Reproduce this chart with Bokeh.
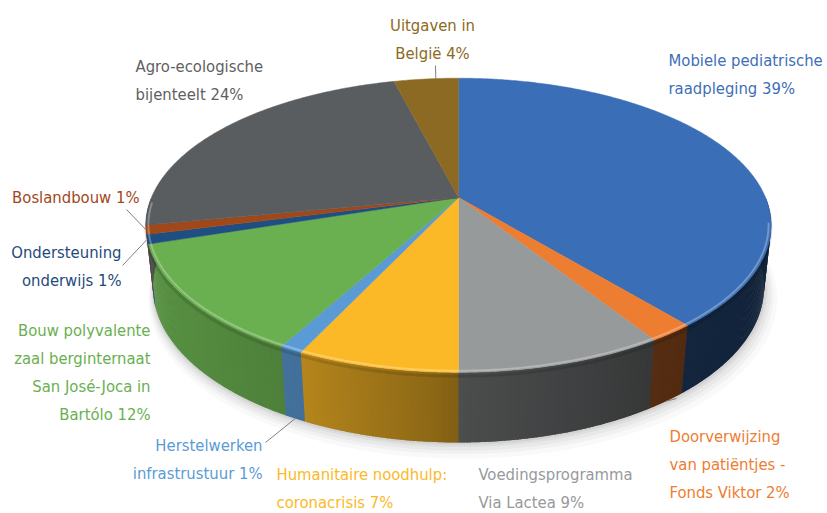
import numpy as np
from bokeh.plotting import figure
from bokeh.models import Range1d
from bokeh.core.properties import value
from bokeh.embed import file_html
from bokeh.resources import INLINE

# ---------------- data ----------------
categories = [
    "Mobiele pediatrische\nraadpleging",
    "Doorverwijzing\nvan patiëntjes -\nFonds Viktor",
    "Voedingsprogramma\nVia Lactea",
    "Humanitaire noodhulp:\ncoronacrisis",
    "Herstelwerken\ninfrastrustuur",
    "Bouw polyvalente\nzaal berginternaat\nSan José-Joca in\nBartólo",
    "Ondersteuning\nonderwijs",
    "Boslandbouw",
    "Agro-ecologische\nbijenteelt",
    "Uitgaven in\nBelgië",
]
shares = [39, 2, 9, 7, 1, 12, 1, 1, 24, 4]

# ---------------- styles ----------------
top_colors = ["#3A6FB7", "#ED7D31", "#979A9B", "#FBB927", "#5B9BD5",
              "#6AAF50", "#1F4E82", "#A0481A", "#5A5D5F", "#8C6A24"]
label_colors = ["#3D6FB6", "#ED7D31", "#97999B", "#FBB927", "#5B9BD5",
                "#6AAF50", "#1F4A7C", "#A0481A", "#5F6062", "#8B6A22"]
# side brightness (fraction of the top colour) as a function of angle
shade_ang = [90, 140, 150, 178, 185, 205, 230, 270]
shade_val = [0.30, 0.34, 0.37, 0.49, 0.57, 0.72, 0.80, 0.86]
# label anchor (x, y of first line centre), alignment
label_pos = [(668, 60, "left"), (669, 436, "left"), (478, 474, "left"),
             (276, 474, "left"), (262, 445, "right"), (150, 330, "right"),
             (121, 252, "right"), (139, 197, "right"), (135, 66, "left"),
             (432, 25, "center")]
line_gap = 28.0
# leader lines: (start x, start y, rim level, slice index, position in slice)
leaders = [(126, 209, "top", 7, 0.5), (122, 265, "top", 6, 0.5),
           (265, 442, "bottom", 4, 0.5), (676, 398, "bottom", 1, 0.5),
           (435, 65, "top", 9, 0.65)]

FONT = "DejaVu Sans Condensed"
FS = "16.5px"

# ---------------- perspective projection ----------------
cx, cy = 458.0, 197.0
s_phi = 0.462
c_phi = float(np.sqrt(1 - s_phi ** 2))
D = 4.69
f = 1440.0
h = 0.229


def proj(theta_deg, r, z):
    t = np.radians(theta_deg)
    X = r * np.sin(t)
    Y = r * np.cos(t)
    depth = Y * c_phi - z * s_phi + D
    xs = f * X / depth
    ys = f * (Y * s_phi + z * c_phi) / depth
    return cx + xs, cy - ys


def hex2rgb(hx):
    hx = hx.lstrip("#")
    return np.array([int(hx[i:i + 2], 16) for i in (0, 2, 4)], dtype=float)


def rgb2hex(c):
    c = np.clip(np.round(c), 0, 255).astype(int)
    return "#%02x%02x%02x" % tuple(c)


total = float(sum(shares))
bounds = np.concatenate([[0], np.cumsum(shares)]) / total * 360.0

W, H = 827, 513
p = figure(width=W, height=H, output_backend="svg", toolbar_location=None,
           x_range=Range1d(0, W), y_range=Range1d(H, 0),
           min_border=0)
p.axis.visible = False
p.grid.visible = False
p.outline_line_color = None
p.background_fill_color = "white"
p.border_fill_color = "white"

# ---------------- soft shadow ----------------
for grow, alpha in [(14, 0.025), (10, 0.03), (7, 0.035), (4, 0.045), (2, 0.05)]:
    angs = np.linspace(40, 272, 160)
    sx, sy = [], []
    for a in angs:
        x, y = proj(a, 1.0 + grow / 500.0, -h)
        sx.append(x + grow * 0.3)
        sy.append(y + grow * 0.7)
    for a in angs[::-1]:
        x, y = proj(a, 0.97, -h * 0.3)
        sx.append(x)
        sy.append(y)
    p.patch(sx, sy, fill_color="#000000", fill_alpha=alpha, line_color=None)

# ---------------- sides ----------------
step = 0.5
side_xs, side_ys, side_fill = [], [], []
for i in range(len(shares)):
    a0, a1 = max(bounds[i], 90.0), min(bounds[i + 1], 270.0)
    if a1 <= a0:
        continue
    n = max(1, int(np.ceil((a1 - a0) / step)))
    edges = np.linspace(a0, a1, n + 1)
    base = hex2rgb(top_colors[i])
    for j in range(n):
        a = edges[j]
        b = min(edges[j + 1] + 0.35, 270.0)
        m = 0.5 * (edges[j] + edges[j + 1])
        shade = np.interp(m, shade_ang, shade_val)
        pts_top = [proj(t, 1, 0) for t in np.linspace(a, b, 3)]
        pts_bot = [proj(t, 1, -h) for t in np.linspace(b, a, 3)]
        pts = pts_top + pts_bot
        side_xs.append([q[0] for q in pts])
        side_ys.append([q[1] for q in pts])
        side_fill.append(rgb2hex(base * shade))
p.patches(side_xs, side_ys, fill_color=side_fill, line_color=None)

# soft darkening just below the rim (rounded edge)
for i in range(len(shares)):
    a0, a1 = max(bounds[i], 92.0), min(bounds[i + 1], 268.0)
    if a1 <= a0:
        continue
    angs = np.linspace(a0, a1, max(3, int((a1 - a0) / 0.5)))
    pts = [proj(t, 1, -0.012) for t in angs]
    p.line([q[0] for q in pts], [q[1] for q in pts], line_color="#000000",
           line_alpha=0.12, line_width=3)

# ---------------- top faces ----------------
top_xs, top_ys = [], []
for i in range(len(shares)):
    a0, a1 = bounds[i], bounds[i + 1]
    n = max(2, int(np.ceil((a1 - a0) / 0.5)))
    angs = np.linspace(a0, a1, n + 1)
    xs = [cx]
    ys = [cy]
    for a in angs:
        x, y = proj(a, 1, 0)
        xs.append(x)
        ys.append(y)
    top_xs.append(xs)
    top_ys.append(ys)
p.patches(top_xs, top_ys, fill_color=top_colors, line_color=top_colors,
          line_width=0.5)

# rim highlight (bevel) on the front half of the top face
for i in range(len(shares)):
    a0, a1 = max(bounds[i], 100.0), min(bounds[i + 1], 268.0)
    if a1 <= a0:
        continue
    base = hex2rgb(top_colors[i])
    light = rgb2hex(base + (255 - base) * 0.35)
    angs = np.linspace(a0, a1, max(3, int((a1 - a0) / 0.5)))
    pts = [proj(t, 0.992, 0) for t in angs]
    p.line([q[0] for q in pts], [q[1] for q in pts], line_color=light,
           line_alpha=0.8, line_width=2)

# ---------------- leader lines ----------------
for (x0, y0, lvl, idx, frac) in leaders:
    ang = bounds[idx] + frac * (bounds[idx + 1] - bounds[idx])
    x1, y1 = proj(ang, 1, 0 if lvl == "top" else -h)
    p.line([x0, x1], [y0, y1], line_color="#7F7F7F", line_width=1)

# ---------------- labels ----------------
for i, cat in enumerate(categories):
    lines = cat.split("\n")
    lines[-1] = lines[-1] + " %d%%" % shares[i]
    x, y, al = label_pos[i]
    ys = [y + k * line_gap for k in range(len(lines))]
    p.text(x=[x] * len(lines), y=ys, text=lines, text_align=al,
           text_baseline="middle", text_color=label_colors[i],
           text_font=value(FONT), text_font_size=FS)

open("out.html", "w").write(file_html(p, INLINE))
